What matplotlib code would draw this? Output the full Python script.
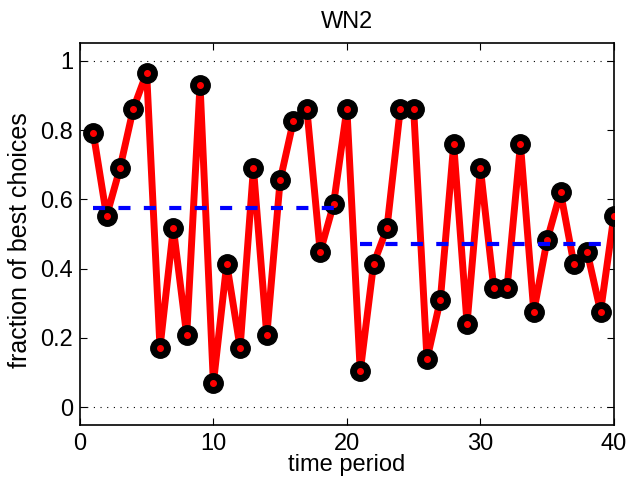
import matplotlib
matplotlib.use("Agg")
import matplotlib.pyplot as plt

plt.rcParams['font.family'] = ['Liberation Sans', 'DejaVu Sans']

periods = list(range(1, 41))
fraction = [0.793, 0.552, 0.690, 0.862, 0.966, 0.172, 0.517, 0.207, 0.931, 0.069,
            0.414, 0.172, 0.690, 0.207, 0.655, 0.828, 0.862, 0.448, 0.586, 0.862,
            0.103, 0.414, 0.517, 0.862, 0.862, 0.138, 0.310, 0.759, 0.241, 0.690,
            0.345, 0.345, 0.759, 0.276, 0.483, 0.621, 0.414, 0.448, 0.276, 0.552]
mean_x1 = [1, 20]
mean_y1 = [0.574, 0.574]
mean_x2 = [21, 40]
mean_y2 = [0.471, 0.471]

fig = plt.figure(figsize=(6.29, 4.83), dpi=100)
ax = fig.add_axes([0.127, 0.120, 0.849, 0.791])

ax.axhline(0, color='black', linestyle=(0, (1, 5)), linewidth=0.8, zorder=1)
ax.axhline(1, color='black', linestyle=(0, (1, 5)), linewidth=0.8, zorder=1)

ax.plot(periods, fraction, color='red', linewidth=5, zorder=2,
        solid_joinstyle='round', solid_capstyle='round')
ax.plot(periods, fraction, linestyle='none', marker='o', markersize=14,
        markerfacecolor='black', markeredgecolor='black', zorder=3)
ax.plot(periods, fraction, linestyle='none', marker='o', markersize=4,
        markerfacecolor='red', markeredgecolor='red', zorder=4)

ax.plot(mean_x1, mean_y1, color='blue', linewidth=3, dashes=(2.9, 3.2), zorder=5)
ax.plot(mean_x2, mean_y2, color='blue', linewidth=3, dashes=(2.9, 3.2), zorder=5)

ax.set_xlim(0, 40)
ax.set_ylim(-0.052, 1.052)
ax.set_xticks([0, 10, 20, 30, 40])
ax.set_yticks([0, 0.2, 0.4, 0.6, 0.8, 1])
ax.set_yticklabels(['0', '0.2', '0.4', '0.6', '0.8', '1'])
ax.tick_params(direction='in', top=True, right=True, labelsize=17, length=5, width=0.8)
ax.tick_params(axis='x', pad=6)
ax.tick_params(axis='y', pad=5)
for s in ax.spines.values():
    s.set_linewidth(1.2)

ax.set_title('WN2', fontsize=17, pad=11)
ax.set_xlabel('time period', fontsize=17, labelpad=-1)
ax.set_ylabel('fraction of best choices', fontsize=18)
ax.yaxis.set_label_coords(-0.09, 0.484)

fig.savefig('out.png', dpi=100)
